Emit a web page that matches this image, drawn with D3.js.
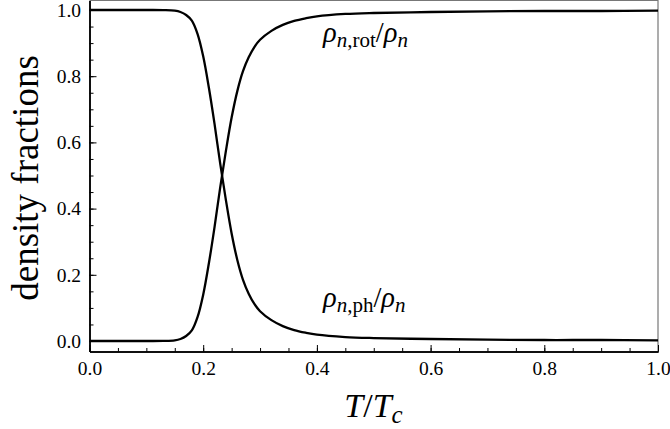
<!DOCTYPE html>
<html><head><meta charset="utf-8">
<script src="https://cdn.jsdelivr.net/npm/d3@7"></script>
<style>
body{margin:0;background:#fff}
svg{display:block}
</style>
</head><body>
<svg id="c" width="670" height="429"></svg>
<script>
// data
const T       = [0, 0.10, 0.13, 0.15, 0.16, 0.17, 0.18, 0.19, 0.20, 0.21, 0.22, 0.23, 0.24, 0.25, 0.26, 0.27, 0.28, 0.29, 0.30, 0.32, 0.34, 0.36, 0.38, 0.40, 0.45, 0.50, 0.60, 0.70, 0.80, 0.90, 1.00];
const rotFrac = [0, 0, 0.0003, 0.002, 0.006, 0.015, 0.032, 0.072, 0.14, 0.235, 0.345, 0.465, 0.575, 0.675, 0.755, 0.815, 0.857, 0.888, 0.91, 0.937, 0.955, 0.967, 0.975, 0.981, 0.988, 0.991, 0.994, 0.996, 0.997, 0.997, 0.998];
const phFrac  = [1, 1, 0.9997, 0.998, 0.994, 0.985, 0.968, 0.928, 0.86, 0.765, 0.655, 0.535, 0.425, 0.325, 0.245, 0.185, 0.143, 0.112, 0.09, 0.063, 0.045, 0.033, 0.025, 0.019, 0.012, 0.009, 0.006, 0.004, 0.003, 0.003, 0.002];
const xMajor = [0, 0.2, 0.4, 0.6, 0.8, 1.0];
const yMajor = [0, 0.2, 0.4, 0.6, 0.8, 1.0];
const xMinor = d3.range(0, 1.0001, 0.05).map(v => +v.toFixed(2));
const yMinor = d3.range(0, 1.0001, 0.05).map(v => +v.toFixed(2));

const SERIF = "Liberation Serif";
const svg = d3.select("#c");
const L = 89.5, R = 658, TOP = 0.5, B = 351.5;
const x = d3.scaleLinear().domain([0, 1]).range([L, R]);
const y = d3.scaleLinear().domain([-0.0317, 1.0287]).range([B, TOP]);

// frame (top/right) in grey
svg.append("path")
  .attr("d", `M${L},${TOP}H${R}V${B}`)
  .attr("fill", "none").attr("stroke", "#777").attr("stroke-width", 1.2);

const fmt = d3.format(".1f");
const gx = svg.append("g").attr("transform", `translate(0,${B})`);
gx.call(d3.axisBottom(x).tickValues(xMinor).tickFormat("").tickSizeInner(-3.5).tickSizeOuter(0));
const gx2 = svg.append("g").attr("transform", `translate(0,${B})`);
gx2.call(d3.axisBottom(x).tickValues(xMajor).tickFormat(fmt).tickSizeInner(-6.5).tickSizeOuter(0).tickPadding(10));
const gy = svg.append("g").attr("transform", `translate(${L},0)`);
gy.call(d3.axisLeft(y).tickValues(yMinor).tickFormat("").tickSizeInner(-4).tickSizeOuter(0));
const gy2 = svg.append("g").attr("transform", `translate(${L},0)`);
gy2.call(d3.axisLeft(y).tickValues(yMajor).tickFormat(fmt).tickSizeInner(-7).tickSizeOuter(0).tickPadding(8.5));

svg.selectAll("g").attr("font-family", SERIF);
svg.selectAll(".domain").attr("stroke", "#000").attr("stroke-width", 1.5);
svg.selectAll(".tick line").attr("stroke", "#000").attr("stroke-width", 1);
svg.selectAll(".tick text").attr("font-size", 19.5).attr("font-family", SERIF).attr("fill", "#000");

const line = d3.line().x(d => x(d[0])).y(d => y(d[1])).curve(d3.curveCatmullRom.alpha(0.5));
const plot = svg.append("g");
plot.append("path").datum(T.map((t, i) => [t, rotFrac[i]]))
  .attr("d", line).attr("fill", "none").attr("stroke", "#000").attr("stroke-width", 2.3);
plot.append("path").datum(T.map((t, i) => [t, phFrac[i]]))
  .attr("d", line).attr("fill", "none").attr("stroke", "#000").attr("stroke-width", 2.3);

function rhoLabel(xp, yp, sub) {
  const t = svg.append("text").attr("x", xp).attr("y", yp).attr("font-size", 28.5).attr("font-family", SERIF);
  t.append("tspan").attr("font-style", "italic").text("ρ");
  t.append("tspan").attr("font-style", "italic").attr("font-size", 21).attr("dy", 5).text("n");
  t.append("tspan").attr("font-size", 21).text("," + sub);
  t.append("tspan").attr("dy", -5).text("/");
  t.append("tspan").attr("font-style", "italic").text("ρ");
  t.append("tspan").attr("font-style", "italic").attr("font-size", 21).attr("dy", 5).text("n");
}
rhoLabel(323, 42, "rot");
rhoLabel(323, 307, "ph");

const xt = svg.append("text").attr("x", 373.5).attr("y", 417).attr("text-anchor", "middle")
  .attr("font-size", 34).attr("font-family", SERIF);
xt.append("tspan").attr("font-style", "italic").text("T");
xt.append("tspan").text("/");
xt.append("tspan").attr("font-style", "italic").text("T");
xt.append("tspan").attr("font-style", "italic").attr("font-size", 25).attr("dy", 6).text("c");

svg.append("text").attr("transform", `translate(38,178) rotate(-90)`)
  .attr("text-anchor", "middle").attr("font-size", 37).attr("font-family", SERIF).text("density fractions");
</script>
</body></html>
